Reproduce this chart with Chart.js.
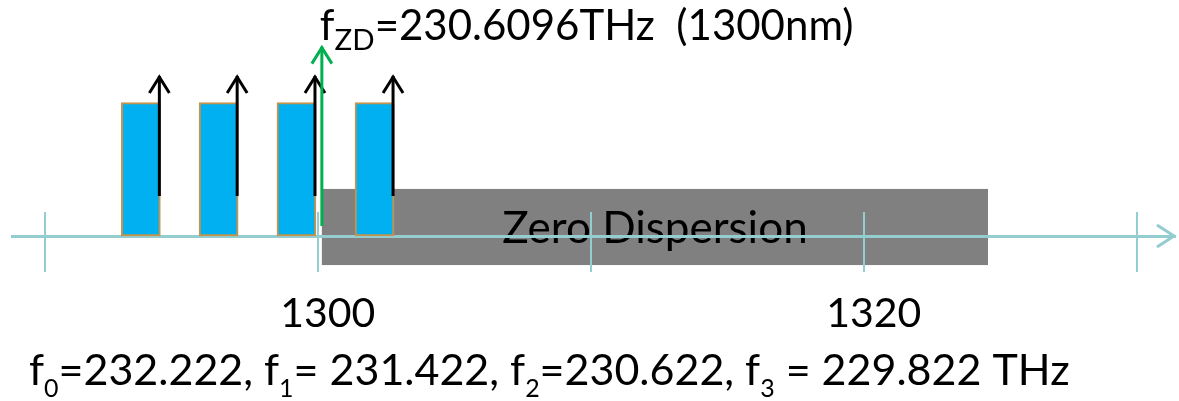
<!DOCTYPE html>
<html lang="en">
  <head>
    <meta charset="UTF-8" />
    <title>Zero Dispersion Channels</title>
    <script src="https://cdn.jsdelivr.net/npm/chart.js@4.4.1/dist/chart.umd.min.js"></script>
    <style>
      body {
        margin: 0;
        background: #fff;
      }
      #chart {
        display: block;
      }
    </style>
  </head>
  <body>
    <canvas id="chart" width="1179" height="401"></canvas>
    <script>
      // wavelength axis (nm)
      const wavelengthTicks = [1290, 1300, 1310, 1320, 1330];
      const tickLabels = ['', '1300', '', '1320', ''];

      // four WDM channels (bar centres in nm, relative power)
      const channelCenters = [1293.52, 1296.37, 1299.22, 1302.08];
      const channelLevels = [1, 1, 1, 1];
      // carrier arrows: from / to level
      const carrierArrow = [0.3, 1.2];

      // zero dispersion wavelength marker and band
      const zdWavelength = 1300.15;
      const zdArrow = [0.075, 1.42];
      const zeroBand = [1300.15, 1324.55];
      const zeroBandLevels = [-0.218, 0.353];
      const zeroBandText = 'Zero Dispersion';

      // text lines: [text, isSubscript]
      const zdLabel = [['f', 0], ['ZD', 1], ['=230.6096THz  (1300nm)', 0]];
      const freqLabel = [
        ['f', 0], ['0', 1], ['=232.222, f', 0], ['1', 1],
        ['= 231.422, f', 0], ['2', 1], ['=230.622, f', 0], ['3', 1],
        [' = 229.822 THz', 0],
      ];

      const axisColor = '#93cdd0';
      const fontFamily = 'Lato, "Open Sans", sans-serif';

      function drawRuns(ctx, runs, x, y, size, subScale, subDrop) {
        ctx.textAlign = 'left';
        ctx.textBaseline = 'alphabetic';
        ctx.fillStyle = '#000';
        runs.forEach(([txt, sub]) => {
          const s = sub ? size * subScale : size;
          ctx.font = s + 'px ' + fontFamily;
          ctx.fillText(txt, x, sub ? y + subDrop : y);
          x += ctx.measureText(txt).width;
        });
      }

      function arrow(ctx, x, yFrom, yTo, color) {
        ctx.save();
        ctx.strokeStyle = color;
        ctx.lineWidth = 3;
        ctx.beginPath();
        ctx.moveTo(x, yFrom);
        ctx.lineTo(x, yTo);
        ctx.stroke();
        ctx.beginPath();
        ctx.moveTo(x - 10, yTo + 17);
        ctx.lineTo(x, yTo + 1);
        ctx.lineTo(x + 10, yTo + 17);
        ctx.stroke();
        ctx.restore();
      }

      const decorations = {
        id: 'decorations',
        beforeDraw(chart) {
          const { ctx, scales } = chart;
          const x0 = scales.x.getPixelForValue(zeroBand[0]);
          const x1 = scales.x.getPixelForValue(zeroBand[1]);
          const y0 = scales.y.getPixelForValue(zeroBandLevels[1]);
          const y1 = scales.y.getPixelForValue(zeroBandLevels[0]);
          ctx.save();
          ctx.fillStyle = '#808080';
          ctx.fillRect(x0, y0, x1 - x0, y1 - y0);
          ctx.fillStyle = '#000';
          ctx.font = '44px ' + fontFamily;
          ctx.textAlign = 'center';
          ctx.textBaseline = 'alphabetic';
          ctx.fillText(zeroBandText, (x0 + x1) / 2, 243);
          ctx.restore();
        },
        afterDatasetsDraw(chart) {
          const { ctx, scales } = chart;
          const meta = chart.getDatasetMeta(0);
          const yA = scales.y.getPixelForValue(carrierArrow[0]);
          const yB = scales.y.getPixelForValue(carrierArrow[1]);
          meta.data.forEach((bar) => {
            arrow(ctx, bar.x + bar.width / 2 - 1, yA, yB, '#000');
          });
          const gx = scales.x.getPixelForValue(zdWavelength);
          arrow(ctx, gx, scales.y.getPixelForValue(zdArrow[0]),
            scales.y.getPixelForValue(zdArrow[1]), '#00b050');

          // arrowhead at the end of the wavelength axis
          const ay = scales.y.getPixelForValue(0);
          const ax = chart.chartArea.right;
          ctx.save();
          ctx.strokeStyle = axisColor;
          ctx.lineWidth = 3;
          ctx.beginPath();
          ctx.moveTo(ax - 18, ay - 11);
          ctx.lineTo(ax - 1, ay);
          ctx.lineTo(ax - 18, ay + 11);
          ctx.stroke();
          ctx.restore();
        },
        afterDraw(chart) {
          const { ctx, scales } = chart;
          ctx.save();
          drawRuns(ctx, zdLabel, scales.x.getPixelForValue(zdWavelength) - 2, 40, 42, 0.7, 10);
          drawRuns(ctx, freqLabel, 29, 385, 43, 0.58, 12);
          ctx.restore();
        },
      };

      new Chart(document.getElementById('chart'), {
        type: 'bar',
        data: {
          datasets: [
            {
              data: channelCenters.map((c, i) => ({ x: c, y: channelLevels[i] })),
              backgroundColor: '#00b0f0',
              borderColor: '#c4934c',
              borderWidth: 2,
              borderSkipped: false,
              barThickness: 39,
              clip: false,
            },
          ],
        },
        options: {
          responsive: false,
          animation: false,
          layout: { padding: { left: 12, right: 4, top: 212, bottom: 129 } },
          plugins: {
            legend: { display: false },
            tooltip: { enabled: false },
          },
          scales: {
            x: {
              type: 'linear',
              min: 1288.8,
              max: 1331.4,
              offset: false,
              position: { y: 0 },
              afterBuildTicks: (scale) => {
                scale.ticks = wavelengthTicks.map((v) => ({ value: v }));
              },
              afterFit: (scale) => {
                scale.paddingLeft = 0;
                scale.paddingRight = 0;
              },
              ticks: {
                autoSkip: false,
                maxRotation: 0,
                padding: 53,
                labelOffset: 10,
                color: '#000',
                font: { family: fontFamily, size: 41 },
                callback: (v, i) => tickLabels[i],
              },
              grid: { color: axisColor, lineWidth: 2, drawTicks: false, offset: false },
              border: { color: axisColor, width: 3 },
            },
            y: { display: false, min: -0.27, max: 0.18 },
          },
        },
        plugins: [decorations],
      });
    </script>
  </body>
</html>
